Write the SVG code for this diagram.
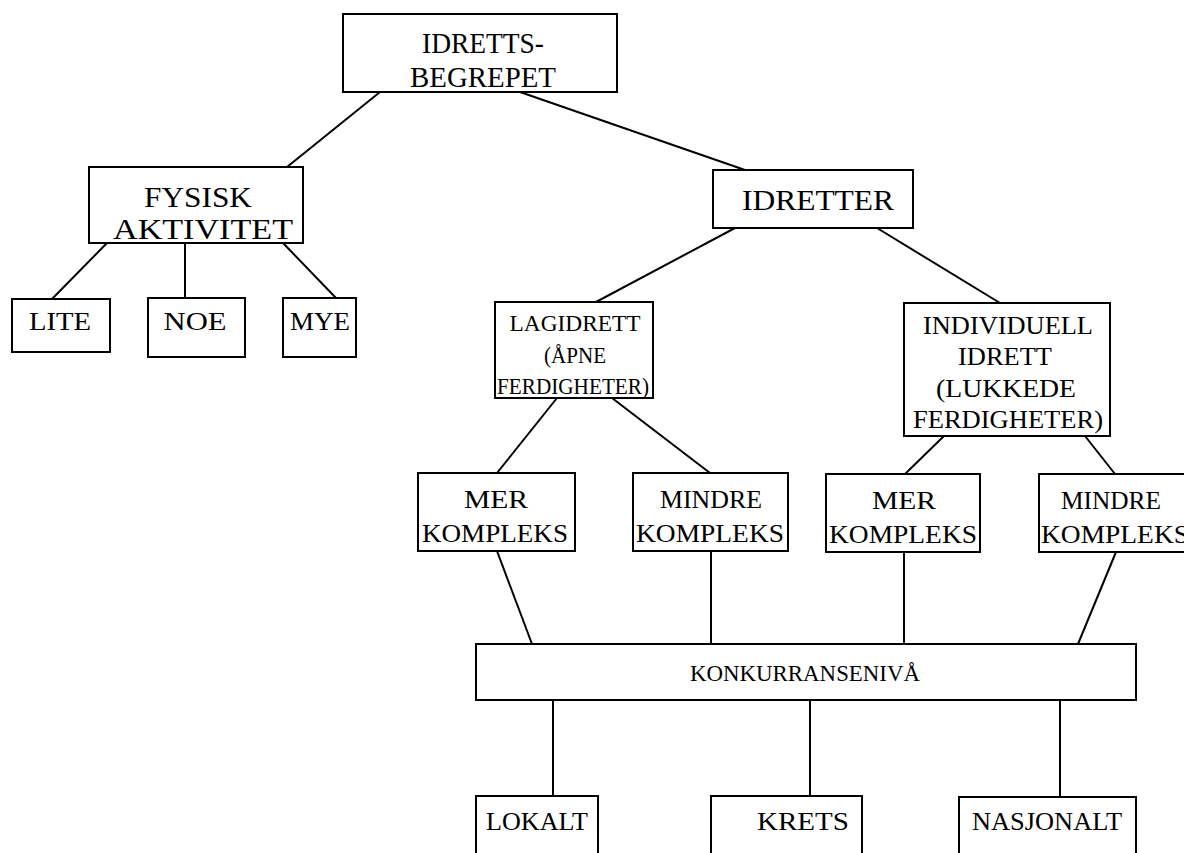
<svg xmlns="http://www.w3.org/2000/svg" width="1184" height="853" viewBox="0 0 1184 853">
<style>
rect{fill:#fff;stroke:#000;stroke-width:2}
#connectors line{stroke:#000;stroke-width:2}
text{font-family:"Liberation Serif","Times New Roman",serif;fill:#000;text-anchor:middle}
.big{font-size:30px}
.med{font-size:26px}
.sm{font-size:24px}
</style>
<rect x="0" y="0" width="1184" height="853" style="stroke:none"/>
<g id="connectors">
<line x1="380" y1="92" x2="287" y2="167"/>
<line x1="520" y1="92" x2="745" y2="170"/>
<line x1="107" y1="243" x2="52" y2="299"/>
<line x1="185" y1="243" x2="185" y2="298"/>
<line x1="283" y1="243" x2="336" y2="298"/>
<line x1="735" y1="228" x2="596" y2="302"/>
<line x1="877" y1="228" x2="1000" y2="303"/>
<line x1="557" y1="398" x2="497" y2="473"/>
<line x1="612" y1="398" x2="710" y2="473"/>
<line x1="944" y1="436" x2="905" y2="474"/>
<line x1="1085" y1="436" x2="1115" y2="474"/>
<line x1="497" y1="551" x2="532" y2="644"/>
<line x1="711" y1="551" x2="711" y2="644"/>
<line x1="904" y1="552" x2="904" y2="644"/>
<line x1="1116" y1="552" x2="1078" y2="644"/>
<line x1="553" y1="700" x2="553" y2="796"/>
<line x1="810" y1="700" x2="810" y2="796"/>
<line x1="1060" y1="700" x2="1060" y2="797"/>
</g>
<g id="n-idrettsbegrepet"><rect x="343" y="14" width="274" height="78"/><text class="big" x="483" y="53" textLength="122" lengthAdjust="spacingAndGlyphs">IDRETTS-</text><text class="big" x="483" y="87" textLength="146" lengthAdjust="spacingAndGlyphs">BEGREPET</text></g>
<g id="n-fysisk"><rect x="89" y="167" width="214" height="76"/><text class="big" x="198" y="207" textLength="108" lengthAdjust="spacingAndGlyphs">FYSISK</text><text class="big" x="203" y="239" textLength="180" lengthAdjust="spacingAndGlyphs">AKTIVITET</text></g>
<g id="n-lite"><rect x="12" y="299" width="98" height="53"/><text class="med" x="60" y="330" textLength="62" lengthAdjust="spacingAndGlyphs">LITE</text></g>
<g id="n-noe"><rect x="148" y="298" width="97" height="59"/><text class="med" x="195" y="330" textLength="63" lengthAdjust="spacingAndGlyphs">NOE</text></g>
<g id="n-mye"><rect x="283" y="298" width="73" height="59"/><text class="med" x="320" y="330" textLength="60" lengthAdjust="spacingAndGlyphs">MYE</text></g>
<g id="n-idretter"><rect x="713" y="170" width="200" height="58"/><text class="big" x="818" y="210" textLength="152" lengthAdjust="spacingAndGlyphs">IDRETTER</text></g>
<g id="n-lagidrett"><rect x="495" y="302" width="158" height="96"/><text class="sm" x="575" y="331" textLength="131" lengthAdjust="spacingAndGlyphs">LAGIDRETT</text><text class="sm" x="575" y="363" textLength="62" lengthAdjust="spacingAndGlyphs">(ÅPNE</text><text class="sm" x="573" y="394" textLength="152" lengthAdjust="spacingAndGlyphs">FERDIGHETER)</text></g>
<g id="n-individuell"><rect x="904" y="303" width="206" height="133"/><text class="med" x="1008" y="334" textLength="170" lengthAdjust="spacingAndGlyphs">INDIVIDUELL</text><text class="med" x="1005" y="365" textLength="94" lengthAdjust="spacingAndGlyphs">IDRETT</text><text class="med" x="1006" y="397" textLength="140" lengthAdjust="spacingAndGlyphs">(LUKKEDE</text><text class="med" x="1008" y="428" textLength="190" lengthAdjust="spacingAndGlyphs">FERDIGHETER)</text></g>
<g id="n-mer1"><rect x="418" y="473" width="157" height="78"/><text class="med" x="496" y="508" textLength="64" lengthAdjust="spacingAndGlyphs">MER</text><text class="med" x="495" y="542" textLength="146" lengthAdjust="spacingAndGlyphs">KOMPLEKS</text></g>
<g id="n-mindre1"><rect x="633" y="473" width="155" height="78"/><text class="med" x="711" y="508" textLength="102" lengthAdjust="spacingAndGlyphs">MINDRE</text><text class="med" x="710" y="542" textLength="148" lengthAdjust="spacingAndGlyphs">KOMPLEKS</text></g>
<g id="n-mer2"><rect x="826" y="474" width="154" height="78"/><text class="med" x="904" y="509" textLength="64" lengthAdjust="spacingAndGlyphs">MER</text><text class="med" x="903" y="543" textLength="148" lengthAdjust="spacingAndGlyphs">KOMPLEKS</text></g>
<g id="n-mindre2"><rect x="1039" y="474" width="155" height="78"/><text class="med" x="1111" y="509" textLength="100" lengthAdjust="spacingAndGlyphs">MINDRE</text><text class="med" x="1115" y="543" textLength="148" lengthAdjust="spacingAndGlyphs">KOMPLEKS</text></g>
<g id="n-konkurranseniva"><rect x="476" y="644" width="660" height="56"/><text class="sm" x="805" y="681" textLength="230" lengthAdjust="spacingAndGlyphs">KONKURRANSENIVÅ</text></g>
<g id="n-lokalt"><rect x="476" y="796" width="122" height="70"/><text class="med" x="537" y="830" textLength="102" lengthAdjust="spacingAndGlyphs">LOKALT</text></g>
<g id="n-krets"><rect x="711" y="796" width="151" height="70"/><text class="med" x="803" y="830" textLength="92" lengthAdjust="spacingAndGlyphs">KRETS</text></g>
<g id="n-nasjonalt"><rect x="959" y="797" width="177" height="70"/><text class="med" x="1047" y="830" textLength="150" lengthAdjust="spacingAndGlyphs">NASJONALT</text></g>
</svg>
